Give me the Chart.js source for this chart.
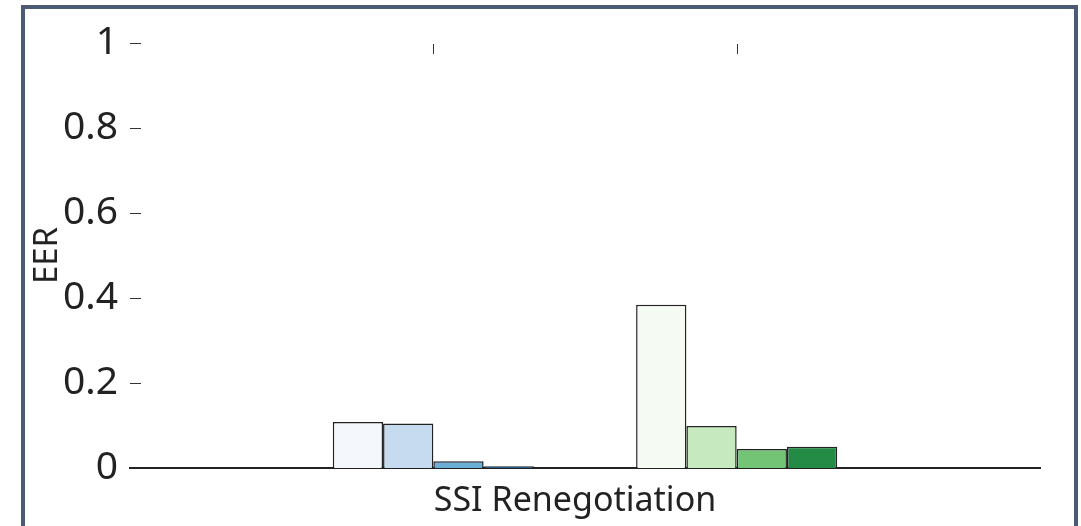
<!DOCTYPE html>
<html>
<head>
<meta charset="utf-8">
<script src="https://cdn.jsdelivr.net/npm/chart.js@4.4.1/dist/chart.umd.min.js"></script>
<style>
  html, body { margin: 0; padding: 0; background: #ffffff; }
  body { width: 1081px; height: 526px; position: relative; overflow: hidden; }
  #frame {
    position: absolute; left: 21px; top: 5px; width: 1049px; height: 560px;
    border: 4px solid #4b5b73; background: #ffffff;
  }
  #wrap { position: absolute; left: 0; top: 0; width: 1081px; height: 526px; }
</style>
</head>
<body>
<div id="frame"></div>
<div id="wrap"><canvas id="c" width="1081" height="526"></canvas></div>
<script>
// Slots along the x axis: an empty slot on each side of the two bar groups
const slots = ['', 'Blues', 'Greens', ''];
const groupIndex = [1, 2];

// EER per method, first value for the blue group, second for the green group
const method1 = [0.108, 0.384];
const method2 = [0.105, 0.099];
const method3 = [0.016, 0.045];
const method4 = [0.004, 0.050];

const blueShades  = ['#f4f8fd', '#c6dbef', '#6baed6', '#2171b5'];
const greenShades = ['#f5fbf2', '#c7e9c0', '#74c476', '#238b45'];

const yTicks = [0, 0.2, 0.4, 0.6, 0.8, 1];
const xTitle = 'SSI Renegotiation';
const yTitle = 'EER';

function slotData(vals) {
  const d = slots.map(() => null);
  groupIndex.forEach((g, i) => { d[g] = vals[i]; });
  return d;
}
function slotColors(k) {
  const c = slots.map(() => 'rgba(0,0,0,0)');
  c[groupIndex[0]] = blueShades[k];
  c[groupIndex[1]] = greenShades[k];
  return c;
}

const series = [method1, method2, method3, method4];

// Inward tick marks on the left and along the top edge, plus the x axis title
const axisExtras = {
  id: 'axisExtras',
  afterDraw(chart) {
    const { ctx, chartArea, scales } = chart;
    ctx.save();
    ctx.strokeStyle = '#333333';
    ctx.lineWidth = 1;
    yTicks.forEach(v => {
      if (v === 0) return;
      const y = Math.round(scales.y.getPixelForValue(v)) + 0.5;
      ctx.beginPath();
      ctx.moveTo(chartArea.left, y);
      ctx.lineTo(chartArea.left + 11, y);
      ctx.stroke();
    });
    groupIndex.forEach(g => {
      const x = Math.round(scales.x.getPixelForValue(g)) + 0.5;
      ctx.beginPath();
      ctx.moveTo(x, chartArea.top + 1);
      ctx.lineTo(x, chartArea.top + 11);
      ctx.stroke();
    });
    ctx.fillStyle = '#222222';
    ctx.font = '34px "Noto Sans"';
    ctx.textAlign = 'center';
    ctx.textBaseline = 'alphabetic';
    ctx.fillText(xTitle, (chartArea.left + chartArea.right) / 2 - 10, scales.x.top + 43);
    ctx.restore();
  }
};

new Chart(document.getElementById('c'), {
  type: 'bar',
  data: {
    labels: slots,
    datasets: series.map((vals, k) => ({
      data: slotData(vals),
      backgroundColor: slotColors(k),
      borderColor: '#222222',
      borderWidth: 1.5,
      borderSkipped: 'bottom',
      categoryPercentage: 0.663,
      barPercentage: 1.0
    }))
  },
  options: {
    responsive: false,
    animation: false,
    layout: { padding: { left: 0, right: 41, top: 43, bottom: 0 } },
    plugins: { legend: { display: false }, tooltip: { enabled: false } },
    scales: {
      x: {
        offset: false,
        grid: { display: false, drawTicks: false },
        border: { display: true, color: '#222222', width: 2 },
        ticks: { display: false },
        title: { display: false },
        afterFit(scale) { scale.height = 58; }
      },
      y: {
        min: 0,
        max: 1,
        afterBuildTicks(scale) { scale.ticks = yTicks.map(v => ({ value: v })); },
        grid: { display: false, drawTicks: false },
        border: { display: false },
        ticks: {
          color: '#222222',
          padding: 12,
          font: { family: 'Noto Sans', size: 39 },
          callback: v => String(v)
        },
        title: {
          display: true,
          text: yTitle,
          color: '#222222',
          font: { family: 'Noto Sans', size: 33, lineHeight: 1 },
          padding: { top: 31, bottom: 0 }
        },
        afterFit(scale) { scale.width = 130; }
      }
    }
  },
  plugins: [axisExtras]
});
</script>
</body>
</html>
